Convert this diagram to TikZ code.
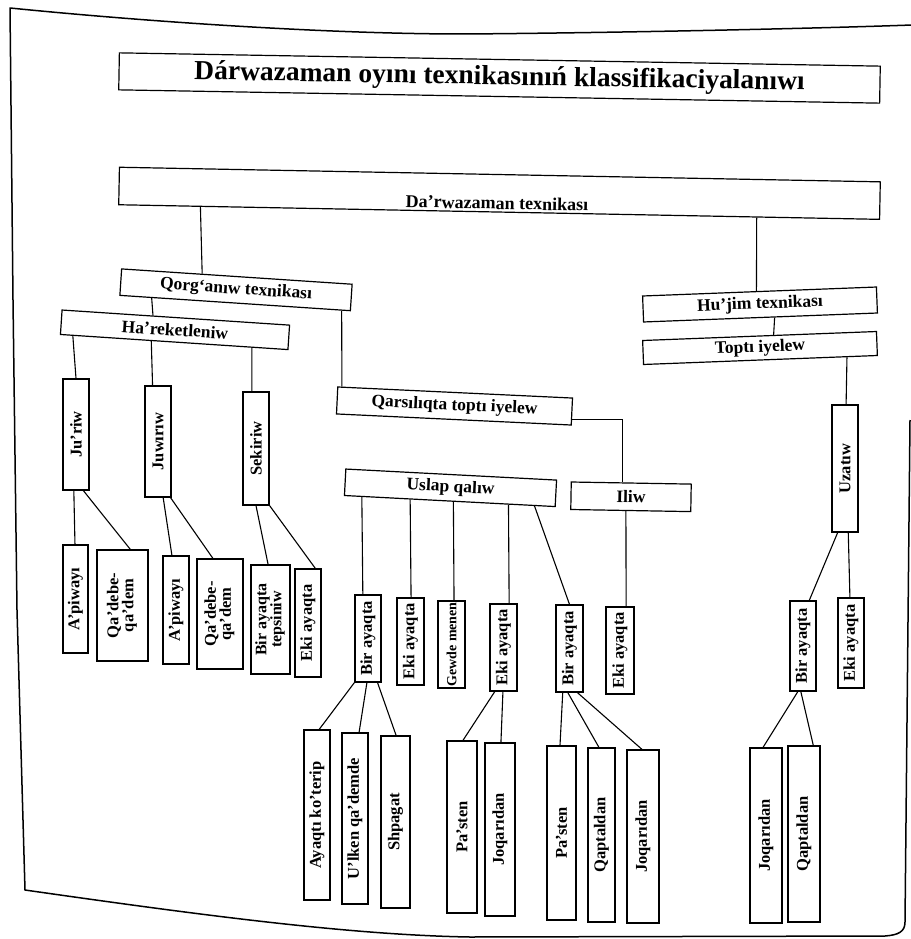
\documentclass[tikz,border=0pt]{standalone}
\usepackage{fontspec}
\setmainfont{Liberation Serif}
\usetikzlibrary{calc}
\tikzset{
  hb/.style={draw, line width=1.2pt, inner sep=0pt, font=\bfseries\fontsize{17.5}{18}\selectfont},
  vb/.style={draw, line width=1.2pt, inner sep=0pt, font=\bfseries\fontsize{16.5}{17}\selectfont},
  lbl/.style={inner sep=0pt},
  ln/.style={line width=1.1pt},
  frame/.style={line width=1.5pt, line join=round},
}
\newcommand{\vt}[1]{\rotatebox{90}{#1}}
\newcommand{\vtt}[2]{\rotatebox{90}{\begin{tabular}{@{}c@{}}#1\\[-2pt]#2\end{tabular}}}
\begin{document}
\begin{tikzpicture}[x=1pt,y=-1pt]
\useasboundingbox (0,0) rectangle (910,939);
% page frame (scanned page border)
\draw[frame] (912,25) .. controls (800,29) and (600,33) .. (464,34)
  .. controls (330,34) and (150,22) .. (10,8)
  -- (13,300) -- (17,610) -- (25,890)
  .. controls (200,915) and (350,935) .. (470,937)
  -- (885,936) .. controls (898,935) and (905,932) .. (905,922) -- (910,420);
% horizontal boxes
\node[hb, rotate=-1, minimum width=761pt, minimum height=37pt, font=\bfseries\fontsize{27.5}{28}\selectfont] (title) at (499.5,78) {Dárwazaman oyını texnikasınıń klassifikaciyalanıwı};
\node[hb, rotate=-1.1, minimum width=761pt, minimum height=37.5pt] (darw) at (499.5,193.3) {};
\node[lbl, rotate=-1.1, font=\bfseries\fontsize{18}{19}\selectfont] (darwt) at (497,203) {Da'rwazaman texnikası};
\node[hb, rotate=-3.8, minimum width=231pt, minimum height=26.5pt] (qorg) at (236,289.8) {Qorg‘anıw texnikası};
\node[hb, rotate=-3.8, minimum width=228pt, minimum height=24.5pt] (hare) at (175,329.8) {Ha'reketleniw};
\node[hb, rotate=-2.7, minimum width=235pt, minimum height=27pt] (qars) at (454.5,406) {Qarsılıqta toptı iyelew};
\node[hb, rotate=-3, minimum width=211pt, minimum height=26.5pt] (uslap) at (450.5,487.8) {Uslap qalıw};
\node[hb, rotate=-1, minimum width=120pt, minimum height=27.5pt] (iliw) at (631,496.8) {Iliw};
\node[hb, rotate=2.2, minimum width=234pt, minimum height=26pt] (hujim) at (760,304.5) {Hu'jim texnikası};
\node[hb, rotate=2.2, minimum width=234pt, minimum height=24pt] (topti) at (760,348) {Toptı iyelew};
% vertical boxes, level 1
\node[vb, minimum width=26pt, minimum height=111pt] (juriw) at (76,434.5) {\vt{Ju'riw}};
\node[vb, minimum width=26pt, minimum height=111pt] (juwiriw) at (158,441.5) {\vt{Juwırıw}};
\node[vb, minimum width=26pt, minimum height=113pt] (sekiriw) at (256,448.5) {\vt{Sekiriw}};
\node[vb, minimum width=26pt, minimum height=127pt] (uzatiw) at (845,468.5) {\vt{Uzatıw}};
% leaves under Ha'reketleniw
\node[vb, minimum width=25pt, minimum height=108pt] (ap1) at (75.5,599) {\vt{A'piwayı}};
\node[vb, minimum width=51pt, minimum height=111pt] (qd1) at (122.5,605.5) {\vtt{Qa'debe-}{qa'dem}};
\node[vb, minimum width=26pt, minimum height=108pt] (ap2) at (176,610) {\vt{A'piwayı}};
\node[vb, minimum width=46pt, minimum height=110pt] (qd2) at (220,614) {\vtt{Qa'debe-}{qa'dem}};
\node[vb, minimum width=39pt, minimum height=109pt, font=\bfseries\fontsize{16}{17}\selectfont] (bat) at (270.5,619.5) {\vtt{Bir ayaqta}{tepsiniw}};
\node[vb, minimum width=26pt, minimum height=108pt] (eki1) at (308,623) {\vt{Eki ayaqta}};
% under Uslap qalıw / Iliw
\node[vb, minimum width=26pt, minimum height=87pt] (u1) at (368,638.5) {\vt{Bir ayaqta}};
\node[vb, minimum width=27pt, minimum height=87pt] (u2) at (410.5,641.5) {\vt{Eki ayaqta}};
\node[vb, minimum width=27pt, minimum height=87pt, font=\bfseries\fontsize{14}{15}\selectfont] (gewde) at (451.5,644.5) {\vt{Gewde menen}};
\node[vb, minimum width=27pt, minimum height=87pt] (u4) at (503.5,647.5) {\vt{Eki ayaqta}};
\node[vb, minimum width=27pt, minimum height=87pt] (u5) at (569.5,648.5) {\vt{Bir ayaqta}};
\node[vb, minimum width=28pt, minimum height=87pt] (e3) at (620,650.5) {\vt{Eki ayaqta}};
% under Uzatıw
\node[vb, minimum width=26pt, minimum height=90pt] (birR) at (803,646) {\vt{Bir ayaqta}};
\node[vb, minimum width=26pt, minimum height=90pt] (ekiR) at (851,643) {\vt{Eki ayaqta}};
% bottom leaves
\node[vb, minimum width=26pt, minimum height=170pt] (ayaqti) at (317,815) {\vt{Ayaqtı ko'terip}};
\node[vb, minimum width=26pt, minimum height=171pt] (ulken) at (355,818.5) {\vt{U'lken qa'demde}};
\node[vb, minimum width=29pt, minimum height=172pt] (shpagat) at (395.5,822) {\vt{Shpagat}};
\node[vb, minimum width=30pt, minimum height=172pt] (pasten1) at (462,827) {\vt{Pa'sten}};
\node[vb, minimum width=30pt, minimum height=173pt] (joq1) at (500,829.5) {\vt{Joqarıdan}};
\node[vb, minimum width=29pt, minimum height=174pt] (pasten2) at (561.5,833) {\vt{Pa'sten}};
\node[vb, minimum width=27pt, minimum height=174pt] (qapt1) at (601.5,835) {\vt{Qaptaldan}};
\node[vb, minimum width=32pt, minimum height=173pt] (joq2) at (643,836.5) {\vt{Joqarıdan}};
\node[vb, minimum width=32pt, minimum height=175pt] (joqR) at (766,835.5) {\vt{Joqarıdan}};
\node[vb, minimum width=32pt, minimum height=176pt] (qaptR) at (804,834) {\vt{Qaptaldan}};
% connectors
\draw[ln] ($(darw.south west)!0.108!(darw.south east)$) -- ($(qorg.north west)!0.35!(qorg.north east)$);
\draw[ln] ($(darw.south west)!0.838!(darw.south east)$) -- ($(hujim.north west)!0.487!(hujim.north east)$);
\draw[ln] ($(qorg.south west)!0.14!(qorg.south east)$) -- ($(hare.north west)!0.40!(hare.north east)$);
\draw[ln] ($(qorg.south west)!0.96!(qorg.south east)$) -- ($(qars.north west)!0.02!(qars.north east)$);
\draw[ln] ($(hare.south west)!0.057!(hare.south east)$) -- (juriw.north);
\draw[ln] ($(hare.south west)!0.40!(hare.south east)$) -- ($(juwiriw.north west)!0.3!(juwiriw.north east)$);
\draw[ln] ($(hare.south west)!0.84!(hare.south east)$) -- ($(sekiriw.north west)!0.35!(sekiriw.north east)$);
\draw[ln] ($(juriw.south west)!0.42!(juriw.south east)$) -- ($(ap1.north west)!0.48!(ap1.north east)$);
\draw[ln] ($(juriw.south west)!0.77!(juriw.south east)$) -- ($(qd1.north west)!0.65!(qd1.north east)$);
\draw[ln] ($(juwiriw.south west)!0.69!(juwiriw.south east)$) -- ($(ap2.north west)!0.35!(ap2.north east)$);
\draw[ln] ($(juwiriw.south west)!0.96!(juwiriw.south east)$) -- ($(qd2.north west)!0.35!(qd2.north east)$);
\draw[ln] (sekiriw.south) -- ($(bat.north west)!0.44!(bat.north east)$);
\draw[ln] (sekiriw.south east) -- ($(eki1.north west)!0.77!(eki1.north east)$);
\draw[ln] ($(qars.north east)!0.78!(qars.south east)$) -| ($(iliw.north west)!0.425!(iliw.north east)$);
\draw[ln] ($(uslap.south west)!0.085!(uslap.south east)$) -- ($(u1.north west)!0.31!(u1.north east)$);
\draw[ln] ($(uslap.south west)!0.313!(uslap.south east)$) -- ($(u2.north west)!0.52!(u2.north east)$);
\draw[ln] ($(uslap.south west)!0.517!(uslap.south east)$) -- ($(gewde.north west)!0.59!(gewde.north east)$);
\draw[ln] ($(uslap.south west)!0.777!(uslap.south east)$) -- ($(u4.north west)!0.7!(u4.north east)$);
\draw[ln] ($(uslap.south west)!0.90!(uslap.south east)$) -- (u5.north);
\draw[ln] ($(iliw.south west)!0.46!(iliw.south east)$) -- ($(e3.north west)!0.71!(e3.north east)$);
\draw[ln] ($(hujim.south west)!0.56!(hujim.south east)$) -- ($(topti.north west)!0.56!(topti.north east)$);
\draw[ln] ($(topti.south west)!0.868!(topti.south east)$) -- ($(uzatiw.north west)!0.54!(uzatiw.north east)$);
\draw[ln] ($(uzatiw.south west)!0.23!(uzatiw.south east)$) -- ($(birR.north west)!0.73!(birR.north east)$);
\draw[ln] ($(uzatiw.south west)!0.62!(uzatiw.south east)$) -- ($(ekiR.north west)!0.46!(ekiR.north east)$);
\draw[ln] (u1.south west) -- ($(ayaqti.north west)!0.58!(ayaqti.north east)$);
\draw[ln] ($(u1.south west)!0.46!(u1.south east)$) -- ($(ulken.north west)!0.65!(ulken.north east)$);
\draw[ln] ($(u1.south west)!0.85!(u1.south east)$) -- ($(shpagat.north west)!0.52!(shpagat.north east)$);
\draw[ln] ($(u4.south west)!0.19!(u4.south east)$) -- ($(pasten1.north west)!0.53!(pasten1.north east)$);
\draw[ln] ($(u4.south west)!0.48!(u4.south east)$) -- ($(joq1.north west)!0.53!(joq1.north east)$);
\draw[ln] ($(u5.south west)!0.26!(u5.south east)$) -- ($(pasten2.north west)!0.45!(pasten2.north east)$);
\draw[ln] ($(u5.south west)!0.44!(u5.south east)$) -- ($(qapt1.north west)!0.41!(qapt1.north east)$);
\draw[ln] ($(u5.south west)!0.78!(u5.south east)$) -- ($(joq2.north west)!0.47!(joq2.north east)$);
\draw[ln] ($(birR.south west)!0.31!(birR.south east)$) -- ($(joqR.north west)!0.41!(joqR.north east)$);
\draw[ln] ($(birR.south west)!0.42!(birR.south east)$) -- ($(qaptR.north west)!0.78!(qaptR.north east)$);
\end{tikzpicture}
\end{document}
